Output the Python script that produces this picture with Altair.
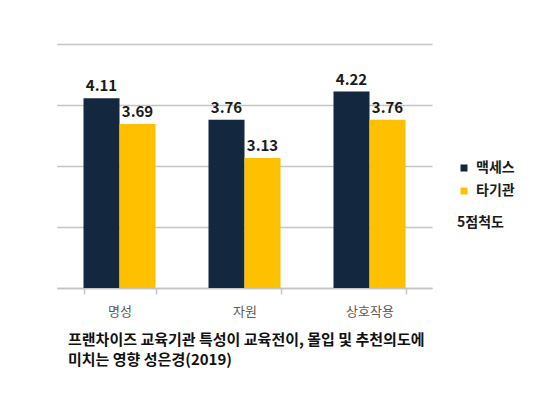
import altair as alt
import pandas as pd

categories = ["명성", "자원", "상호작용"]
series_names = ["맥세스", "타기관"]
maxes_values = [4.11, 3.76, 4.22]
other_values = [3.69, 3.13, 3.76]
title_lines = ["프랜차이즈 교육기관 특성이 교육전이, 몰입 및 추천의도에", "미치는 영향 성은경(2019)"]
legend_note = "5점척도"

rows = []
for c, a, b in zip(categories, maxes_values, other_values):
    rows.append({"cat": c, "series": series_names[0], "value": a})
    rows.append({"cat": c, "series": series_names[1], "value": b})
df = pd.DataFrame(rows)

FONT = "Noto Sans CJK KR"
GRID = "#c4c4c4"

x = alt.X("cat:N", sort=categories, title=None,
          scale=alt.Scale(paddingInner=0.424, paddingOuter=0.212),
          axis=alt.Axis(labelAngle=0, labelFont=FONT, labelFontSize=13, labelColor="#595959",
                        domainColor=GRID, domainWidth=1.5, tickColor=GRID, tickWidth=1.5,
                        tickSize=6, tickBand="extent", labelPadding=11, grid=False))
xo = alt.XOffset("series:N", sort=series_names, scale=alt.Scale(paddingInner=0, paddingOuter=0))
y = alt.Y("value:Q", title=None,
          scale=alt.Scale(domain=[1, 5], nice=False, zero=False),
          axis=alt.Axis(values=[1, 2, 3, 4, 5], labels=False, ticks=False, domain=False,
                        grid=True, gridColor=GRID, gridWidth=1.5))

color = alt.Color("series:N", sort=series_names,
                  scale=alt.Scale(domain=series_names, range=["#13273f", "#ffc000"]),
                  legend=alt.Legend(title=legend_note, titleOrient="bottom", orient="none",
                                    legendX=400, legendY=117, symbolType="square", symbolSize=49,
                                    symbolStrokeWidth=0, labelFont=FONT, labelFontSize=14,
                                    labelFontWeight="bold", labelColor="#1a1a1a",
                                    titleFont=FONT, titleFontSize=14, titleFontWeight="bold",
                                    titleColor="#1a1a1a", titlePadding=18, rowPadding=9,
                                    labelOffset=5))

bars = alt.Chart(df).mark_bar().encode(
    x=x, xOffset=xo, y=y, y2=alt.datum(1), color=color)

labels = alt.Chart(df).mark_text(baseline="bottom", dy=-4, font=FONT, fontSize=15,
                                 fontWeight="bold", color="#1a1a1a").encode(
    x=x, xOffset=xo, y=y, text=alt.Text("value:Q", format=".2f"))

chart = alt.layer(bars, labels).properties(
    width=375, height=244,
    autosize=alt.AutoSizeParams(type="none"),
    padding={"left": 49, "top": 36, "right": 110, "bottom": 101},
    background="white",
    title=alt.TitleParams(text=title_lines, orient="bottom", anchor="start", dx=11,
                          offset=15, font=FONT, fontSize=15, fontWeight="bold",
                          color="#111111", lineHeight=20),
).configure_view(stroke=None)

chart.save("out.html", embed_options={"renderer": "svg", "actions": False})
